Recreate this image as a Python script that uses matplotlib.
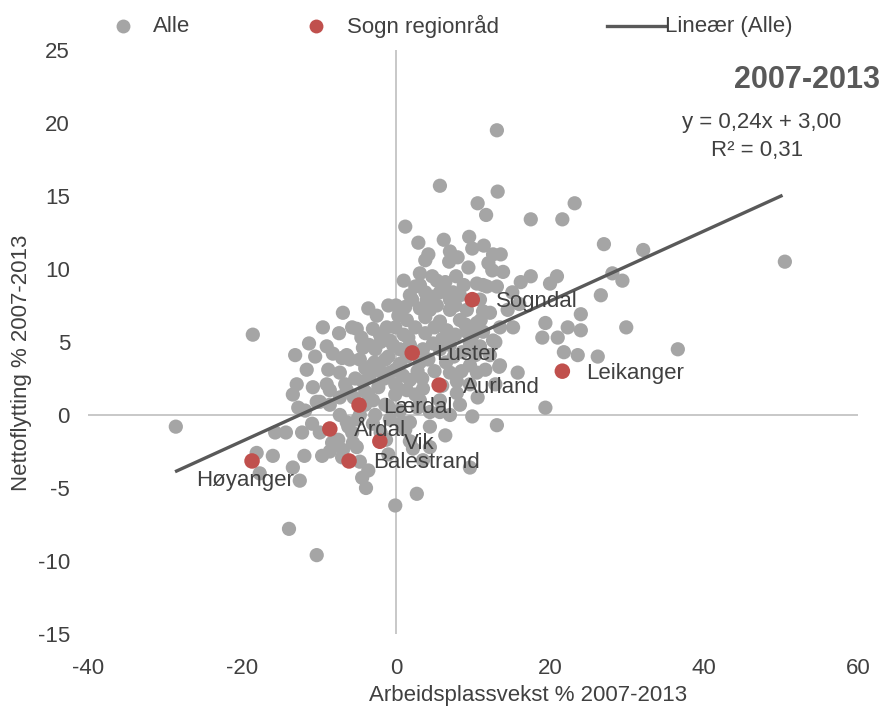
import matplotlib.pyplot as plt
from matplotlib.lines import Line2D
import numpy as np

plt.rcParams['font.family'] = ['Liberation Sans', 'DejaVu Sans']
plt.rcParams['axes.unicode_minus'] = False

# Alle kommunar (arbeidsplassvekst %, nettoflytting %)
alle_x = [-28.6, -18.6, -13.9, -10.3, -0.1, 2.7, 13.1, 5.7, 13.2, 1.2, 10.6, 11.7, 23.2, 17.5, 21.6,
          2.9, 6.2, 9.5, 27.0, 32.1, 50.5, 28.1, 29.4, 26.6, 29.9, 36.6, 26.2, 19.4, 9.9, 13.1,
          15.8, 19.4, 19.0, 21.0, 22.3, 24.0, 24.0, 21.8, 23.6, 10.6, 13.4, 12.9, 9.6, 6.4, 4.4,
          9.9, 11.4, 4.2, 3.8, 6.9, 9.4, 12.6, 13.6, 12.5, 13.9, 16.2, 17.5, 20.0, 20.9, 3.1,
          5.3, 6.4, 4.0, 7.0, 8.3, 11.8, 13.1, 15.1, 1.2, 3.1, 11.3, 10.9, -6.9, -3.6, -2.5,
          -9.5, -7.4, -5.7, -5.1, -3.0, -4.5, -1.2, -0.1, -11.3, -9.0, -13.1, -10.5, -8.2, -6.4, -4.3,
          -0.4, -11.6, -8.8, -7.0, -12.9, -13.4, -10.8, -9.0, -9.9, -12.7, -7.3, -6.4, -15.7, -14.3, -12.2,
          -10.9, -8.3, -6.2, -5.6, -18.1, -16.0, -11.9, -9.6, -13.4, -17.7, -12.5, -7.0, -3.6, -4.4, -3.9,
          -8.6, -11.8, -10.3, -8.6, -7.3, -9.9, -6.4, -7.5, -5.7, -5.1, -4.7, -8.6, -6.9, -4.0, -4.3,
          -4.0, -0.8, -2.3, -6.0, -7.3, 3.1, 4.7, 1.8, 3.8, 4.8, 7.4, 11.3, 5.3, 7.0, 12.2,
          1.4, 3.8, 5.7, 8.3, 10.5, 13.5, 15.2, 1.6, 3.8, 6.6, 9.2, 11.3, 12.6, 4.8, 7.0,
          9.6, 10.9, 1.4, 3.1, 0.9, 3.4, 7.0, 7.9, 9.6, 10.5, 13.5, 7.9, 1.4, 3.1, 5.7,
          4.4, 1.8, 1.8, 4.4, 3.5, -2.7, -1.4, -0.1, -3.4, -0.1, -1.4, -4.0, -2.7, -0.1, 1.8,
          0.5, -0.8, -2.1, 1.8, 2.5, 0.5, -0.8, -4.7, -3.1, -5.3, -3.6, -4.7, -6.6, -1.0, 0.3,
          2.1, 4.4, 5.7, 7.7, 9.0, 7.7, 5.7, 8.6, 10.3, 12.2, 11.6, 12.9, 9.6, 8.3, 7.0,
          5.7, -1.3, 1.2, 2.2, -1.0,
          -2.0, -1.0, 0.5, 1.0, 2.5, 3.5, 2.8, 4.2, 5.0, 6.0, 6.5, 7.5, 6.0, 5.0, 4.5,
          6.2, 7.8, 8.8, 9.2, 2.5, 1.0, 0.0, -1.5, -2.8, -3.5, -2.0, -1.0, 0.3, -3.0, -5.5,
          -5.0, -3.0, -2.0, 0.8, 2.8, 3.5, 8.5, 10.0, 11.0, 14.5, 16.0, 12.0, 10.5, 8.0, 7.0]
alle_y = [-0.8, 5.5, -7.8, -9.6, -6.2, -5.4, 19.5, 15.7, 15.3, 12.9, 14.5, 13.7, 14.5, 13.4, 13.4,
          11.8, 12.0, 12.2, 11.7, 11.3, 10.5, 9.7, 9.2, 8.2, 6.0, 4.5, 4.0, 0.5, -0.1, -0.7,
          2.9, 6.3, 5.3, 5.3, 6.0, 5.8, 6.9, 4.3, 4.1, 1.2, 3.3, 5.0, -3.6, -1.4, -0.8,
          11.4, 11.6, 11.0, 10.6, 10.5, 10.1, 11.0, 11.0, 9.9, 9.8, 9.1, 9.5, 9.0, 9.5, 8.9,
          9.2, 9.1, 7.9, 7.9, 8.2, 8.8, 8.8, 8.4, 7.4, 7.3, 7.1, 7.9, 7.0, 7.3, 6.8,
          6.0, 5.6, 6.0, 5.9, 5.9, 5.3, 6.0, 6.0, 4.9, 4.7, 4.1, 4.0, 4.2, 4.1, 4.6,
          4.8, 3.1, 3.1, 3.9, 2.1, 1.4, 1.9, 2.1, 0.9, 0.5, 1.2, 1.7, -1.2, -1.2, -1.2,
          -0.6, -1.9, -0.8, -1.9, -2.6, -2.8, -2.8, -2.8, -3.6, -4.0, -4.5, -2.9, -3.8, -4.3, -5.0,
          1.7, 0.3, 0.9, 0.7, 0.0, -1.2, -0.5, -1.7, -1.2, -2.2, -3.2, -2.5, -2.4, 1.6, 2.3,
          3.2, 2.9, 1.9, 3.8, 2.9, 9.7, 9.5, 8.2, 8.4, 8.1, 8.4, 8.9, 7.5, 7.2, 7.0,
          6.5, 6.7, 6.4, 6.5, 6.3, 6.0, 6.0, 5.3, 5.6, 5.8, 5.7, 5.7, 5.1, 4.9, 4.8,
          4.9, 4.7, 4.0, 3.6, 2.7, 2.5, 2.9, 2.3, 3.4, 2.9, 3.4, 1.5, 1.7, 1.0, 1.0,
          0.2, -0.5, -1.8, -2.2, -3.1, 4.5, 3.8, 3.1, 2.7, 1.4, 0.7, 0.7, 0.0, 2.1, 2.4,
          4.5, 5.1, 5.5, 4.8, 1.4, 0.3, -0.3, 3.8, 3.4, 2.5, 1.4, 0.0, 2.1, 7.5, 6.8,
          7.9, 7.2, 8.4, 7.5, 6.2, 5.5, 4.5, 4.3, 4.1, 4.1, 3.1, 2.1, 2.1, 0.7, 0.0,
          0.2, -1.7, -1.0, -2.3, -2.7,
          3.0, 4.0, 3.5, 5.5, 6.0, 4.5, 3.0, 3.8, 3.0, 2.0, 3.6, 4.0, 5.2, 6.0, 7.8,
          8.8, 9.5, 8.9, 7.2, 8.8, 9.2, 7.5, 2.5, 3.6, 4.8, 5.0, 0.6, 1.8, 1.0, 1.2,
          -0.3, -0.6, -1.2, -0.5, 0.5, 1.8, 3.0, 5.5, 6.5, 7.2, 7.6, 10.4, 9.0, 10.8, 11.2]

# Sogn regionråd
sogn_names = ['Høyanger', 'Årdal', 'Lærdal', 'Balestrand', 'Vik', 'Luster', 'Aurland', 'Sogndal', 'Leikanger']
sogn_x = [-18.7, -8.6, -4.8, -6.1, -2.1, 2.1, 5.6, 9.9, 21.6]
sogn_y = [-3.15, -0.96, 0.68, -3.15, -1.8, 4.25, 2.05, 7.9, 3.0]

# trendline
slope = 0.24
intercept = 3.00
trend_x = [-28.5, 50.0]

gray = '#A5A5A5'
red = '#C0504D'
dark = '#595959'
txt = '#404040'
fs = 16

fig = plt.figure(figsize=(8.83, 7.07), dpi=100)
ax = fig.add_axes([0.0997, 0.1033, 0.872, 0.826])

ax.axhline(0, color='#BFBFBF', lw=1.2, zorder=0)
ax.axvline(0, color='#BFBFBF', lw=1.2, zorder=0)

ax.scatter(alle_x, alle_y, s=105, color=gray, edgecolors='none', zorder=2)
tx = np.array(trend_x)
ax.plot(tx, slope * tx + intercept, color=dark, lw=2.4, zorder=3)
ax.scatter(sogn_x, sogn_y, s=125, color=red, edgecolors='none', zorder=4)

for name, x, y in zip(sogn_names, sogn_x, sogn_y):
    if name == 'Høyanger':
        ax.annotate(name, (x, y), xytext=(-7, -20), textcoords='offset pixels',
                    ha='center', va='center', fontsize=fs, color=txt, zorder=5)
    else:
        ax.annotate(name, (x, y), xytext=(24, -2), textcoords='offset pixels',
                    ha='left', va='center', fontsize=fs, color=txt, zorder=5)

ax.set_xlim(-40, 60)
ax.set_ylim(-15, 25)
ax.set_xticks(range(-40, 61, 20))
ax.set_yticks(range(-15, 26, 5))
for s in ax.spines.values():
    s.set_visible(False)
ax.tick_params(length=0, labelsize=fs, labelcolor=txt)
ax.tick_params(axis='x', pad=17)
ax.tick_params(axis='y', pad=13)
ax.set_xlabel('Arbeidsplassvekst % 2007-2013', fontsize=fs, color=txt)
ax.set_ylabel('Nettoflytting % 2007-2013', fontsize=fs, color=txt)
ax.xaxis.set_label_coords(0.571, -0.088)
ax.yaxis.set_label_coords(-0.073, 0.465)

fig.text(0.9966, 0.8868, '2007-2013', ha='right', va='center',
         fontsize=22, fontweight='bold', color=dark)
fig.text(0.863, 0.8274, 'y = 0,24x + 3,00', ha='center', va='center', fontsize=fs, color=txt)
fig.text(0.857, 0.7878, 'R² = 0,31', ha='center', va='center', fontsize=fs, color=txt)

# legend drawn along the top
ly = 0.9630
fig.add_artist(Line2D([0.1393], [ly], marker='o', ms=10, color=gray, mec='none', ls='none'))
fig.text(0.1733, ly, 'Alle', va='center', fontsize=fs, color=txt)
fig.add_artist(Line2D([0.3579], [ly], marker='o', ms=10, color=red, mec='none', ls='none'))
fig.text(0.393, ly, 'Sogn regionråd', va='center', fontsize=fs, color=txt)
fig.add_artist(Line2D([0.6874, 0.7531], [ly, ly], color=dark, lw=2.4))
fig.text(0.7531, ly, 'Lineær (Alle)', va='center', fontsize=fs, color=txt)

fig.savefig('out.png', dpi=100)
